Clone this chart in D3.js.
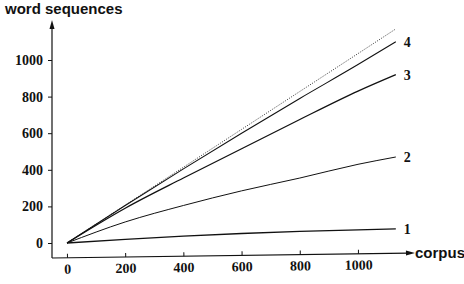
<!DOCTYPE html>
<html>
<head>
<meta charset="utf-8">
<script src="https://cdn.jsdelivr.net/npm/d3@7"></script>
<style>
  body { margin: 0; background: #fff; }
  svg { display: block; }
</style>
</head>
<body>
<div id="chart"></div>
<script>
// corpus sizes (x) and word-sequence counts per curve
const corpus = [0, 200, 400, 600, 800, 1000, 1130];
const curve1 = [0, 20, 38, 52, 63, 72, 77];
const curve2 = [0, 115, 205, 285, 355, 430, 470];
const curve3 = [0, 190, 355, 515, 675, 830, 920];
const curve4 = [0, 205, 405, 600, 790, 975, 1100];
const diagonal = [0, 207, 414, 621, 828, 1035, 1170];
const curveNames = ["1", "2", "3", "4"];
const xTicks = [0, 200, 400, 600, 800, 1000];
const yTicks = [0, 200, 400, 600, 800, 1000];

const width = 464, height = 284;
const serif = "'Liberation Serif', 'Times New Roman', serif";
const sans = "'Liberation Sans', Arial, sans-serif";

const svg = d3.select("#chart").append("svg")
    .attr("width", width)
    .attr("height", height);

// scales
const x = d3.scaleLinear().domain([0, 1000]).range([67, 358]);
const y = d3.scaleLinear().domain([0, 1000]).range([243, 60]);

const axisX0 = 52, axisY0 = 258;

// Y axis
const gy = svg.append("g")
    .attr("transform", `translate(${axisX0},0)`)
    .call(d3.axisLeft(y).tickValues(yTicks).tickSize(4).tickPadding(5).tickFormat(d3.format("d")))
    .attr("font-family", serif)
    .attr("font-size", 14)
    .attr("font-weight", "bold");
gy.select(".domain").remove();
gy.selectAll("text").attr("fill", "#111");
gy.selectAll("line").attr("stroke", "#111");

svg.append("line")
    .attr("x1", axisX0).attr("y1", axisY0)
    .attr("x2", axisX0).attr("y2", 26)
    .attr("stroke", "#111").attr("stroke-width", 1.2);
svg.append("path")
    .attr("d", `M${axisX0},20 L${axisX0 - 2.5},29 L${axisX0 + 2.5},29 Z`)
    .attr("fill", "#111");

// X axis (slightly tilted as in the scan)
const gxWrap = svg.append("g")
    .attr("transform", `rotate(-0.8, ${axisX0}, ${axisY0})`);
const gx = gxWrap.append("g")
    .attr("transform", `translate(0,${axisY0})`)
    .call(d3.axisBottom(x).tickValues(xTicks).tickSizeInner(-4).tickSizeOuter(0).tickPadding(6).tickFormat(d3.format("d")))
    .attr("font-family", serif)
    .attr("font-size", 14)
    .attr("font-weight", "bold");
gx.select(".domain").remove();
gx.selectAll("text").attr("fill", "#111");
gx.selectAll("line").attr("stroke", "#111");

gxWrap.append("line")
    .attr("x1", axisX0).attr("y1", axisY0)
    .attr("x2", 408).attr("y2", axisY0)
    .attr("stroke", "#111").attr("stroke-width", 1.2);
gxWrap.append("path")
    .attr("d", `M415,${axisY0} L406,${axisY0 - 2.5} L406,${axisY0 + 2.5} Z`)
    .attr("fill", "#111");

// axis titles
svg.append("text")
    .attr("x", 5).attr("y", 14)
    .attr("font-family", sans)
    .attr("font-size", 15)
    .attr("font-weight", "bold")
    .attr("fill", "#111")
    .text("word sequences");

svg.append("text")
    .attr("x", 415).attr("y", 258)
    .attr("font-family", sans)
    .attr("font-size", 15)
    .attr("font-weight", "bold")
    .attr("fill", "#111")
    .text("corpus");

// curves
const line = d3.line()
    .x(d => x(d[0]))
    .y(d => y(d[1]))
    .curve(d3.curveMonotoneX);

svg.append("path")
    .datum(corpus.map((c, i) => [c, diagonal[i]]))
    .attr("d", line)
    .attr("fill", "none")
    .attr("stroke", "#333")
    .attr("stroke-width", 1)
    .attr("stroke-dasharray", "1,1.5");

const series = [curve1, curve2, curve3, curve4];
const widths = [1.3, 1, 1.3, 1.1];
series.forEach((vals, k) => {
    const pts = corpus.map((c, i) => [c, vals[i]]);
    svg.append("path")
        .datum(pts)
        .attr("d", line)
        .attr("fill", "none")
        .attr("stroke", "#111")
        .attr("stroke-width", widths[k]);
    const last = pts[pts.length - 1];
    svg.append("text")
        .attr("x", x(last[0]) + 8)
        .attr("y", y(last[1]))
        .attr("dy", "0.35em")
        .attr("font-family", serif)
        .attr("font-size", 14)
        .attr("font-weight", "bold")
        .attr("fill", "#111")
        .text(curveNames[k]);
});
</script>
</body>
</html>
